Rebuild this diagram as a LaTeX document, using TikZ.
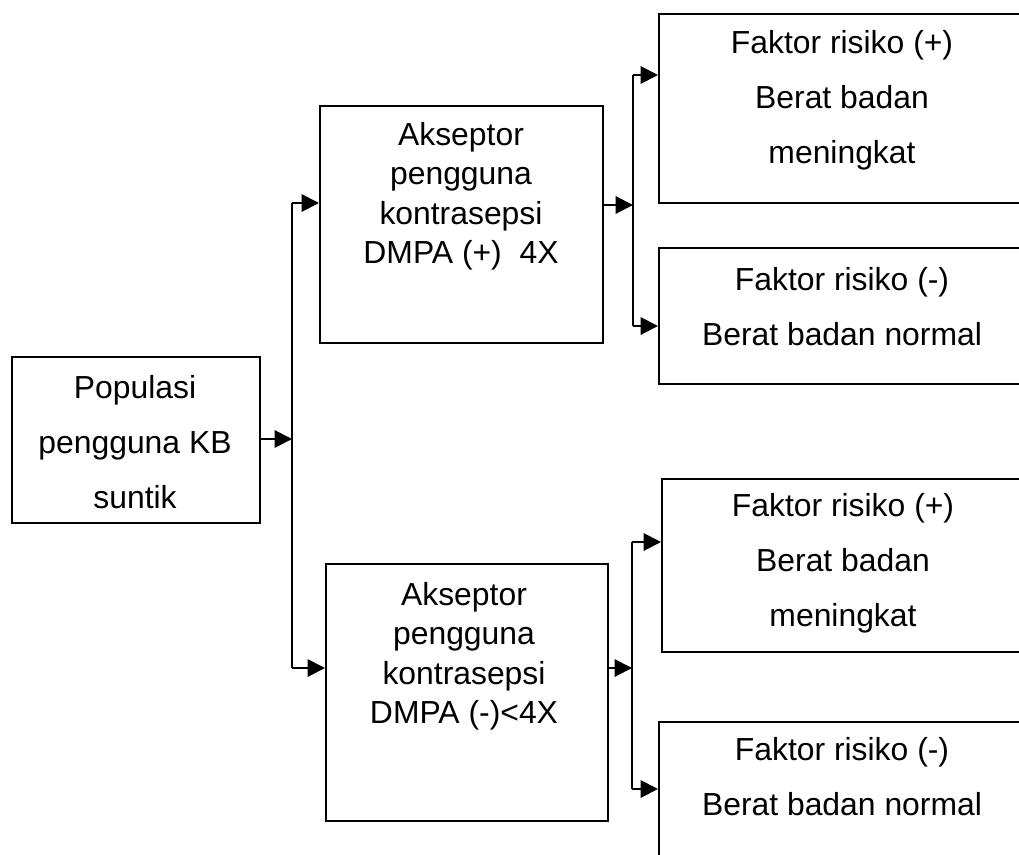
\documentclass[tikz,border=0pt]{standalone}
\usepackage{fontspec}
\setmainfont{Liberation Sans}
\usetikzlibrary{positioning, arrows.meta}

\begin{document}
\begin{tikzpicture}[
		x=0.4pt, y=-0.4pt,
		line width=0.8pt,
		box/.style={draw, anchor=north west, inner sep=0pt},
		txt/.style={align=center, inner sep=0pt, font=\fontsize{12.75}{22}\selectfont},
		txtm/.style={align=center, inner sep=0pt, font=\fontsize{12.75}{15.8}\selectfont},
		arr/.style={-{Triangle[length=7pt,width=7pt]}}]
		\clip (0,0) rectangle (1019,854);

		\node[box, minimum width=99.2pt, minimum height=66.4pt] (pop) at (11,356) {};
		\node[box, minimum width=113.2pt, minimum height=94.8pt] (mpos) at (319,105) {};
		\node[box, minimum width=112.8pt, minimum height=102.8pt] (mneg) at (325,563) {};
		\node[box, minimum width=147.2pt, minimum height=75.6pt] (r1) at (658,13) {};
		\node[box, minimum width=147.2pt, minimum height=54.4pt] (r2) at (658,247) {};
		\node[box, minimum width=146pt, minimum height=69.2pt] (r3) at (661,478) {};
		\node[box, minimum width=147.2pt, minimum height=54.4pt] (r4) at (658,721) {};

		\node[txt] (popT) at (135,442) {Populasi\\pengguna KB\\suntik};
		\node[txtm] (mposT) at (461,196) {Akseptor\\pengguna\\kontrasepsi\\DMPA (+)\ \ 4X};
		\node[txtm] (mnegT) at (464,656) {Akseptor\\pengguna\\kontrasepsi\\DMPA (-)<4X};
		\node[txt] (r1T) at (842,100) {Faktor risiko (+)\\Berat badan\\meningkat};
		\node[txt] (r2T) at (842,307) {Faktor risiko (-)\\Berat badan normal};
		\node[txt] (r3T) at (843,563) {Faktor risiko (+)\\Berat badan\\meningkat};
		\node[txt] (r4T) at (842,777) {Faktor risiko (-)\\Berat badan normal};

		\coordinate (a) at (292,439);
		\coordinate (at) at (292,203);
		\coordinate (ab) at (292,668);
		\coordinate (b) at (633,205);
		\coordinate (bt) at (633,75);
		\coordinate (bb) at (633,326);
		\coordinate (c) at (632,668);
		\coordinate (ct) at (632,542);
		\coordinate (cb) at (632,789);

		\draw[arr] (pop.east |- a) -- (a);
		\draw (at) -- (ab);
		\draw[arr] (at) -- (at -| mpos.west);
		\draw[arr] (ab) -- (ab -| mneg.west);

		\draw[arr] (mpos.east |- b) -- (b);
		\draw (bt) -- (bb);
		\draw[arr] (bt) -- (bt -| r1.west);
		\draw[arr] (bb) -- (bb -| r2.west);

		\draw[arr] (mneg.east |- c) -- (c);
		\draw (ct) -- (cb);
		\draw[arr] (ct) -- (ct -| r3.west);
		\draw[arr] (cb) -- (cb -| r4.west);
\end{tikzpicture}
\end{document}
